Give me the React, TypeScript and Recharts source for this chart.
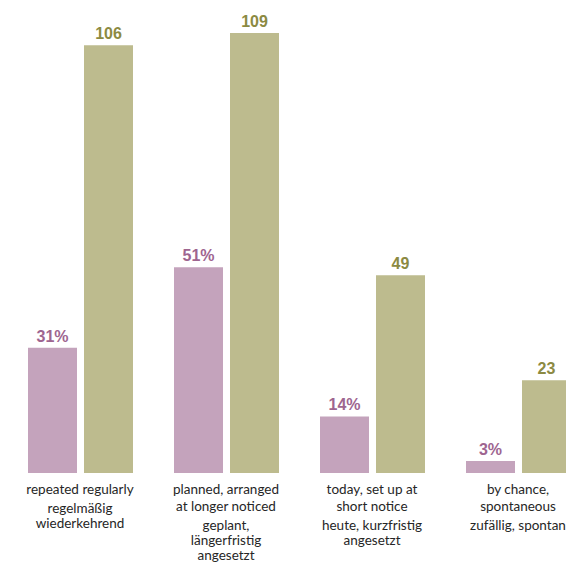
import React from "react";
import { BarChart, Bar, XAxis, YAxis, LabelList } from "recharts";

// Source values
const englishLines = [
  ["repeated regularly"],
  ["planned, arranged", "at longer noticed"],
  ["today, set up at", "short notice"],
  ["by chance,", "spontaneous"],
];
const germanLines = [
  ["regelmäßig", "wiederkehrend"],
  ["geplant,", "längerfristig", "angesetzt"],
  ["heute, kurzfristig", "angesetzt"],
  ["zufällig, spontan"],
];
const shareValues = [31, 51, 14, 3]; // percent
const countValues = [106, 109, 49, 23];

const data = shareValues.map((share, i) => ({
  key: String(i),
  share,
  count: countValues[i],
}));

const PINK = "#c4a3bc";
const OLIVE = "#bdbb8e";
const PINK_TEXT = "#9e6590";
const OLIVE_TEXT = "#8c8a42";

const CategoryTick = (props: any) => {
  const { x, y, payload } = props;
  const idx = Number(payload.value);
  const en = englishLines[idx] || [];
  const de = germanLines[idx] || [];
  const lines: { text: string; dy: number }[] = [];
  let cy = 21;
  en.forEach((t, i) => {
    if (i > 0) cy += 17;
    lines.push({ text: t, dy: cy });
  });
  cy += 19;
  de.forEach((t, i) => {
    if (i > 0) cy += 15;
    lines.push({ text: t, dy: cy });
  });
  return (
    <g>
      {lines.map((l, i) => (
        <text
          key={i}
          x={x}
          y={y + l.dy}
          textAnchor="middle"
          fill="#262626"
          fontSize={13.5}
          fontFamily="Lato, 'Open Sans', sans-serif"
        >
          {l.text}
        </text>
      ))}
    </g>
  );
};

const valueLabel = (color: string, suffix: string) => (props: any) => {
  const { x, y, width, value } = props;
  return (
    <text
      x={x + width / 2}
      y={y - 6}
      textAnchor="middle"
      fill={color}
      fontSize={16}
      fontWeight="bold"
      fontFamily="'Liberation Sans', Arial, sans-serif"
    >
      {value}
      {suffix}
    </text>
  );
};

export default function App() {
  return (
    <div
      style={{
        margin: -8,
        width: 574,
        height: 570,
        overflow: "hidden",
        position: "relative",
        background: "#ffffff",
      }}
    >
      <BarChart
        width={600}
        height={570}
        data={data}
        margin={{ top: 29, right: 9, left: 7, bottom: 0 }}
        barSize={49}
        barGap={7}
      >
        <XAxis
          dataKey="key"
          axisLine={false}
          tickLine={false}
          tickSize={0}
          tickMargin={0}
          height={97}
          interval={0}
          tick={<CategoryTick />}
        />
        <YAxis hide domain={[0, 110]} />
        <Bar dataKey="share" fill={PINK} isAnimationActive={false}>
          <LabelList dataKey="share" content={valueLabel(PINK_TEXT, "%")} />
        </Bar>
        <Bar dataKey="count" fill={OLIVE} isAnimationActive={false}>
          <LabelList dataKey="count" content={valueLabel(OLIVE_TEXT, "")} />
        </Bar>
      </BarChart>
    </div>
  );
}
